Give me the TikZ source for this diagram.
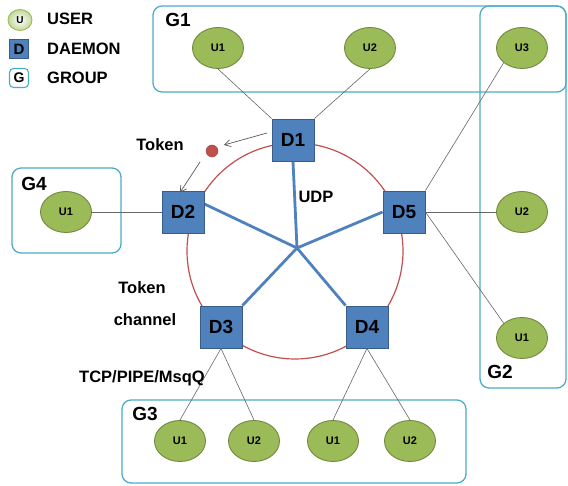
\documentclass[tikz,border=0pt]{standalone}
\usepackage{fontspec}
\setmainfont{Liberation Sans}
\usetikzlibrary{shapes.geometric,arrows.meta}
\definecolor{usergreen}{RGB}{155,187,89}
\definecolor{userline}{RGB}{113,137,63}
\definecolor{dblue}{RGB}{79,129,189}
\definecolor{dline}{RGB}{56,93,138}
\definecolor{gline}{RGB}{75,172,198}
\definecolor{ringred}{RGB}{192,80,77}
\tikzset{
  user/.style={ellipse,draw=userline,line width=0.9pt,fill=usergreen,minimum width=51pt,minimum height=41pt,inner sep=0pt,font=\bfseries\fontsize{11}{12}\selectfont},
  daemon/.style={rectangle,draw=dline,line width=0.9pt,fill=dblue,minimum size=42pt,inner sep=0pt,font=\bfseries\fontsize{19}{21}\selectfont},
  grp/.style={draw=gline,line width=1.3pt,rounded corners=9pt},
  lbl/.style={font=\bfseries\fontsize{16.5}{18}\selectfont,inner sep=0pt},
  glbl/.style={font=\bfseries\fontsize{19}{21}\selectfont,inner sep=0pt},
  link/.style={draw=gray!80!black,line width=0.6pt},
  spoke/.style={draw=dblue,line width=2.8pt},
  tokarrow/.style={draw=gray!70!black,line width=0.7pt,-{Straight Barb[length=6pt,width=7pt]}}
}
\begin{document}
\begin{tikzpicture}[x=1pt,y=-1pt]
\useasboundingbox (0,0) rectangle (568,486);

% legend
\node[ellipse,draw=usergreen,line width=0.9pt,inner color=white,outer color=usergreen!60,minimum width=24pt,minimum height=21pt,inner sep=0pt,font=\bfseries\fontsize{10}{11}\selectfont] (lu) at (20,20) {U};
\node[lbl,anchor=west] (lut) at (47,19) {USER};
\node[rectangle,draw=dline,line width=0.9pt,fill=dblue,minimum size=19pt,inner sep=0pt,font=\bfseries\fontsize{15}{17}\selectfont] (ld) at (19,49) {D};
\node[lbl,anchor=west] (ldt) at (47,49) {DAEMON};
\node[rectangle,draw=gline,line width=1.1pt,rounded corners=4pt,minimum size=19pt,inner sep=0pt,font=\bfseries\fontsize{14}{16}\selectfont] (lg) at (19,78) {G};
\node[lbl,anchor=west] (lgt) at (47,78) {GROUP};

% group frames
\draw[grp] (153,6) rectangle (566,92);
\draw[grp] (480,6) rectangle (566,388);
\draw[grp] (12,168) rectangle (121,253);
\draw[grp] (122,400) rectangle (466,483);
\node[glbl] (g1) at (178,20) {G1};
\node[glbl] (g2) at (500,372) {G2};
\node[glbl] (g3) at (145,414) {G3};
\node[glbl] (g4) at (34,184) {G4};

% token ring
\draw[ringred,line width=1.2pt] (295,251) circle (108);

% daemons
\node[daemon] (d1) at (293,140) {D1};
\node[daemon] (d2) at (183,212) {D2};
\node[daemon] (d5) at (404,212) {D5};
\node[daemon] (d3) at (221,327) {D3};
\node[daemon] (d4) at (367,327) {D4};

% UDP spokes
\coordinate (hub) at (297,248);
\draw[spoke] (hub) -- (d1.south);
\draw[spoke] (hub) -- ([yshift=8pt]d2.east);
\draw[spoke] (hub) -- (d5.west);
\draw[spoke] (hub) -- (d3.north east);
\draw[spoke] (hub) -- (d4.north west);
\node[daemon] at (d1) {D1};
\node[daemon] at (d2) {D2};
\node[daemon] at (d5) {D5};
\node[daemon] at (d3) {D3};
\node[daemon] at (d4) {D4};

% users
\node[user] (g1u1) at (218,48) {U1};
\node[user] (g1u2) at (370,48) {U2};
\node[user] (g2u3) at (522,48) {U3};
\node[user] (g2u2) at (522,212) {U2};
\node[user] (g2u1) at (522,338) {U1};
\node[user] (g4u1) at (66,212) {U1};
\node[user] (g3u1) at (180,441) {U1};
\node[user] (g3u2) at (254,441) {U2};
\node[user] (g3u3) at (333,441) {U1};
\node[user] (g3u4) at (410,441) {U2};

% user links
\draw[link] (g1u1.south) -- (d1.north west);
\draw[link] (g1u2.south) -- (d1.north east);
\draw[link] (g2u3.south west) -- (d5.north east);
\draw[link] (d5.east) -- (g2u2.west);
\draw[link] (d5.east) -- (g2u1.north west);
\draw[link] (g4u1.east) -- (d2.west);
\draw[link] (d3.south) -- (g3u1.north);
\draw[link] (d3.south) -- (g3u2.north);
\draw[link] (d4.south) -- (g3u3.north);
\draw[link] (d4.south) -- (g3u4.north);

% token passing
\node[circle,fill=ringred,draw=ringred!80!black,minimum size=12pt,inner sep=0pt] (tok) at (212,151) {};
\coordinate (tokfrom) at (267,133);
\coordinate (tokto) at (224,145);
\coordinate (tokstart) at (200,162);
\draw[tokarrow] (tokfrom) -- (tokto);
\draw[tokarrow] (tokstart) -- ([xshift=-3pt,yshift=-2pt]d2.north);

% labels
\node[lbl] (toklbl) at (160,145) {Token};
\node[lbl] (udp) at (316,197) {UDP};
\node[lbl] (tc1) at (142,288) {Token};
\node[lbl] (tc2) at (145,320) {channel};
\node[lbl] (tcp) at (142,378) {TCP/PIPE/MsqQ};
\end{tikzpicture}
\end{document}
